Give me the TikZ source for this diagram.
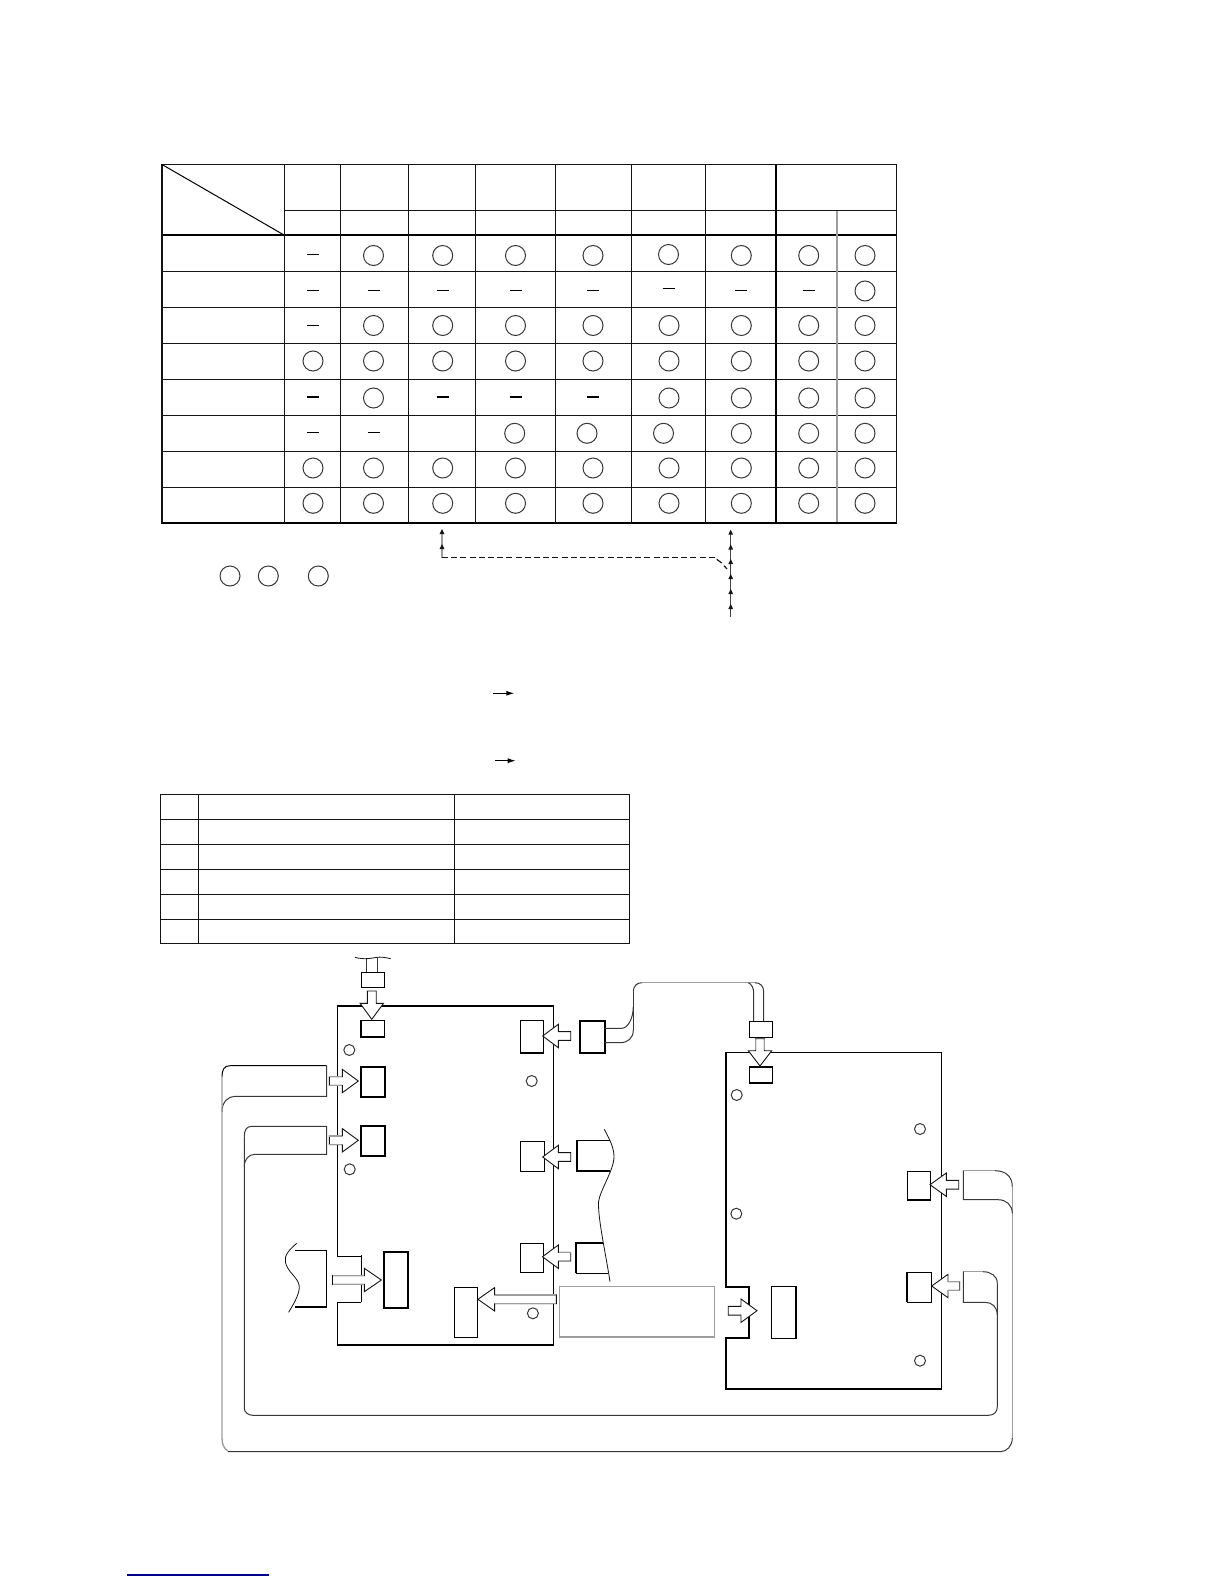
\documentclass[tikz,border=0pt]{standalone}
\usetikzlibrary{arrows.meta}
\definecolor{inkb}{gray}{0.08}
\definecolor{soft}{gray}{0.62}
\definecolor{linkblue}{RGB}{0,0,140}
\newcommand\Oc[2]{\draw[ring] (#1,#2) circle (10);}
\newcommand\Da[2]{\draw[dashmark] (#1-6,#2) -- (#1+6,#2);}
\newcommand\DaB[2]{\draw[dashmark,line width=1.8pt] (#1-6,#2) -- (#1+6,#2);}
\newcommand\Hole[2]{\draw[hole] (#1,#2) circle (5.5);}
% horizontal block arrow: y, tip x, head base x, tail x
\newcommand\barrH[4]{\draw[blockarrow] (#2,#1) -- (#3,#1-11.7) -- (#3,#1-4.4) -- (#4,#1-4.4) -- (#4,#1+4.4) -- (#3,#1+4.4) -- (#3,#1+11.7) -- cycle;}
% vertical block arrow: x, tip y, head base y, tail y
\newcommand\barrV[4]{\draw[blockarrow] (#1,#2) -- (#1-11.7,#3) -- (#1-4.4,#3) -- (#1-4.4,#4) -- (#1+4.4,#4) -- (#1+4.4,#3) -- (#1+11.7,#3) -- cycle;}
% grey shaft of a block arrow
\newcommand\shaftH[3]{\draw[softl] (#2,#1-4.4) -- (#3,#1-4.4) (#2,#1+4.4) -- (#3,#1+4.4);}
\newcommand\shaftV[3]{\draw[softl] (#1-4.4,#2) -- (#1-4.4,#3) (#1+4.4,#2) -- (#1+4.4,#3);}
\newcommand\tinyup[2]{\fill[inkb] (#1,#2-3) -- (#1-2.4,#2+2) -- (#1+2.4,#2+2) -- cycle;}
\tikzset{
  x=1pt,y=-1pt,
  grid/.style={inkb,line width=1pt},
  gridheavy/.style={black,line width=2.6pt},
  ring/.style={inkb!85,line width=1pt},
  dashmark/.style={black,line width=1pt},
  hole/.style={inkb!85,line width=1pt},
  thinl/.style={black,line width=1pt},
  thickl/.style={black,line width=1.8pt},
  softl/.style={soft,line width=1.2pt},
  blockarrow/.style={draw=inkb,fill=white,line width=.9pt,line join=miter},
  cable/.style={inkb!85,line width=1pt},
  softcable/.style={soft,line width=1.4pt},
}
\begin{document}
\begin{tikzpicture}
\useasboundingbox (0,0) rectangle (1224,1584);
\fill[white] (0,0) rectangle (1224,1584);

% ---- main table ----
\foreach \yy in {164.5,271,307,343,379.3,415.3,451.3,487.3} {\draw[grid] (162,\yy) -- (896.3,\yy);}
\draw[grid] (284,210) -- (896.3,210);
\draw[gridheavy] (161,235) -- (896.8,235);
\draw[gridheavy] (161,523) -- (896.8,523);
\draw[grid,line width=1.4pt] (162,164) -- (162,523);
\foreach \xx in {284,340.3,408,475.5,555,631,705.3} {\draw[grid] (\xx,164.5) -- (\xx,523);}
\draw[black,line width=2.6pt] (776,164) -- (776,523);
\draw[grid] (896.3,164) -- (896.3,523);
\draw[soft,line width=1.6pt] (837,210.5) -- (837,522);
\draw[thinl] (162,164.5) -- (284,235);

% row 1
\Da{313}{254}
\foreach \xx in {373.5,442.7,515.5,593,741.3,808.7,865} {\Oc{\xx}{255.5}}
\Oc{668.5}{254.5}
% row 2
\foreach \xx in {313,373.5,442.7,515.5,593,741.3,808.7} {\Da{\xx}{290}}
\Da{668.5}{288}
\Oc{865}{291}
% row 3
\Da{313}{325}
\foreach \xx in {373.5,442.7,515.5,593,669,741.3,808.7,865} {\Oc{\xx}{325.5}}
% row 4
\foreach \xx in {313,373.5,442.7,515.5,593,669,741.3,808.7,865} {\Oc{\xx}{361}}
% row 5
\foreach \xx in {313,442.7,515.5,593} {\DaB{\xx}{396.7}}
\foreach \xx in {373.5,669,741.3,808.7,865} {\Oc{\xx}{398}}
% row 6
\foreach \xx in {313,373.5} {\Da{\xx}{432.3}}
\Oc{514.7}{433.3}\Oc{587}{433.3}\Oc{663.5}{433.3}
\foreach \xx in {741.3,808.7,865} {\Oc{\xx}{433.3}}
% rows 7, 8
\foreach \yy in {468,503.3} {\foreach \xx in {313,373.5,442.7,515.5,593,669,741.3,808.7,865} {\Oc{\xx}{\yy}}}

% legend circles
\Oc{230}{576}\Oc{268.3}{576}\Oc{318.3}{576}

% dashed link and tiny arrows under the table
\draw[soft,line width=1.4pt] (442,557.5) -- (442,533);
\tinyup{442}{532}\tinyup{442}{547}
\draw[inkb,line width=1.2pt,dash pattern=on 6pt off 3.2pt] (442,557.5) -- (715,557.5);
\draw[inkb,line width=1.2pt] (716.7,559.3) -- (721.7,563) (724,565.7) -- (727,569);
\draw[inkb!80,line width=1pt] (730.7,617) -- (730.7,531);
\foreach \yy in {532.7,547.5,562,577,592,607} {\tinyup{730.7}{\yy}}

% small horizontal arrows
\draw[thinl,-{Latex[length=8pt,width=5pt]}] (493,693.3) -- (514.3,693.3);
\draw[thinl,-{Latex[length=8pt,width=5pt]}] (495,760.7) -- (515.7,760.7);

% ---- lower table ----
\draw[grid] (160.7,794.7) rectangle (629.3,943.3);
\foreach \yy in {819.3,844.3,869.3,894.3,919.3} {\draw[grid] (160.7,\yy) -- (629.3,\yy);}
\foreach \xx in {198.3,454.3} {\draw[grid] (\xx,794.7) -- (\xx,943.3);}

% ---- board 1 ----
\draw[thinl] (337.5,1006) -- (337.5,1256) -- (361.4,1256);
\draw[thickl] (361.4,1255) -- (361.4,1302);
\draw[thinl] (361.4,1302) -- (337.5,1302) -- (337.5,1345);
\draw[thickl] (336.5,1345) -- (553.3,1345);
\draw[thinl] (553.3,1345.5) -- (553.3,1006);
\draw[thickl] (336.5,1006) -- (554.3,1006);

% connectors board 1
\draw[thinl] (360.7,1020.7) rectangle (384.7,1037);
\draw[thickl] (360.7,1020.7) -- (360.7,1037) -- (384.7,1037);
\draw[thickl] (360.7,1066.7) rectangle (384.7,1097);
\draw[thickl] (360.7,1126) rectangle (384.7,1156.3);
\draw[thinl] (520.3,1020.7) rectangle (543.7,1053);
\draw[thickl] (520.5,1052.5) -- (543.7,1052.5);
\draw[thinl] (520.3,1141.3) rectangle (544.3,1171.3);
\draw[thinl] (520.7,1243.3) rectangle (543.6,1272.3);
\draw[thickl] (383.6,1252.3) rectangle (408.2,1308.3);
\draw[thinl] (454.3,1287.3) rectangle (477.5,1337.3);

\Hole{349.3}{1050}\Hole{531.7}{1081}\Hole{349.7}{1169.3}\Hole{532.9}{1313.3}

% ---- board 2 ----
\draw[thinl] (725.7,1052.3) -- (941.7,1052.3) -- (941.7,1388.7);
\draw[thickl] (941.7,1388.7) -- (725.7,1388.7) -- (725.7,1338.3) -- (749.3,1338.3) -- (749.3,1287.3) -- (725.7,1287.3) -- (725.7,1052);

% connectors board 2
\draw[thinl] (749.3,1066.7) rectangle (772.7,1083);
\draw[thickl] (749.3,1066.7) -- (772.7,1066.7) (749.3,1083) -- (772.7,1083);
\draw[thinl] (907.3,1171.3) rectangle (930.7,1200);
\draw[thickl] (907.3,1199.7) -- (930.7,1199.7);
\draw[thinl] (907.3,1272.3) rectangle (931.7,1302.3);
\draw[thickl] (907.3,1272.3) -- (907.3,1302.3);
\draw[thinl] (771.3,1286.3) rectangle (796.3,1338.3);
\draw[thickl] (796.3,1286.3) -- (796.3,1338.3);

\Hole{736.7}{1095}\Hole{920}{1129}\Hole{736.3}{1213.7}\Hole{920}{1360.7}

% grey rectangle between the boards
\draw[soft,line width=1.4pt] (559.3,1286.7) rectangle (714.6,1337);

% plug and wires, top of board 1
\draw[thinl] (361.3,972.3) rectangle (384.7,987.7);
\draw[cable] (366.7,958) -- (366.7,972.3);
\draw[cable] (377.3,958) -- (377.3,972.3);
\draw[inkb,line width=.8pt] (355,957.3) .. controls (364,960) and (372,958) .. (376,957.5) .. controls (380,956.5) and (386,957.5) .. (390.7,958.7);

% plug and cable to board 2
\draw[thickl] (579.7,1020.7) rectangle (604.7,1053);
\draw[cable] (604.7,1028.3) -- (621.7,1028.3) .. controls (628,1028.3) and (633.3,1018) .. (633.3,1006.7);
\draw[cable] (604.7,1042.7) -- (620,1042.7) .. controls (628,1042.7) and (633.3,1038) .. (633.3,1030);
\draw[cable] (633.3,1030) -- (633.3,991.7);
\draw[cable] (633.3,991.7) .. controls (633.3,986) and (637,982.7) .. (641.7,982.7);
\draw[softcable] (641.7,982.7) -- (755,982.7);
\draw[cable] (755,982.7) .. controls (760,982.7) and (763.7,986) .. (763.7,991.7) -- (763.7,1021.3);
\draw[cable] (748.3,982.7) .. controls (751.5,984) and (753.7,988) .. (753.7,993) -- (753.7,1021.3);
\draw[thinl] (749.3,1021.3) rectangle (772.7,1037.3);

% left cable, outer
\draw[thinl] (222,1076.7) .. controls (222,1070) and (224,1065.7) .. (230,1065.7) -- (326.7,1065.7);
\draw[cable] (326.7,1065.7) -- (326.7,1096.3) -- (235,1096.3) .. controls (228,1096.3) and (222,1102) .. (222,1111.7);
\draw[softcable] (222,1076.7) -- (222,1438) .. controls (222,1444) and (224,1449) .. (228,1451);
\draw[cable] (228,1451.7) -- (1000,1451.7) .. controls (1007,1451.7) and (1012.3,1446) .. (1012.3,1438);
\draw[softcable] (1012.3,1438) -- (1012.3,1186.7);
\draw[cable] (1012.3,1186.7) .. controls (1012.3,1176) and (1005,1170.7) .. (995,1170.7);
\draw[softcable] (995,1170.7) -- (963.3,1170.7);
\draw[cable] (963.3,1170.7) -- (963.3,1199.7) -- (998.3,1199.7) .. controls (1006,1199.7) and (1012.3,1205) .. (1012.3,1213.3);

% left cable, inner
\draw[cable] (244.3,1136.7) .. controls (244.3,1130) and (246.5,1126.3) .. (251.7,1126.3) -- (326.7,1126.3) -- (326.7,1154.3) -- (255,1154.3) .. controls (249,1154.3) and (244.3,1159) .. (244.3,1166.7);
\draw[cable] (244.3,1136.7) -- (244.3,1408.3) .. controls (244.3,1412) and (248,1415.3) .. (252.9,1415.3) -- (988.3,1415.3) .. controls (994,1415.3) and (997.3,1412) .. (997.3,1406.7) -- (997.3,1283.3);
\draw[cable] (997.3,1283.3) .. controls (997.3,1276) and (991,1271.7) .. (983,1271.7);
\draw[softcable] (983,1271.7) -- (963.3,1271.7);
\draw[cable] (963.3,1271.7) -- (963.3,1302.3) -- (985,1302.3) .. controls (992,1302.3) and (997.3,1307) .. (997.3,1315);

% flat cable left of big connector
\draw[thinl] (295,1250.3) -- (326.4,1250.3);
\draw[thickl] (326.4,1250.3) -- (326.4,1307) -- (295,1307);
\draw[inkb,line width=.8pt] (296.8,1243.3) .. controls (290,1249) and (284,1255) .. (285.4,1262) .. controls (287,1272) and (299.3,1278) .. (299.3,1287) .. controls (299.3,1295) and (293,1305) .. (288.6,1312.3);

% right plugs with wavy cut
\draw[thinl] (577.3,1140.3) -- (610,1140.3);
\draw[thickl] (577.3,1140) -- (577.3,1170.7) -- (610,1170.7);
\draw[thickl] (603,1242.7) -- (575.7,1242.7) -- (575.7,1273.3);
\draw[thinl] (575.7,1273.3) -- (608,1273.3);
\draw[inkb,line width=.8pt] (604.3,1129.3) .. controls (610,1140) and (614,1148) .. (614,1156.7) .. controls (614,1170) and (600,1190) .. (598.5,1202) .. controls (598,1220) and (606,1255) .. (610,1281.7);

% block arrows
\barrV{371.8}{1019.3}{1003.3}{991}
\barrH{1081}{358.3}{342.3}{329.3}
\shaftH{1081}{329.3}{342}
\barrH{1140.3}{358.3}{342.3}{329.3}
\shaftH{1140.3}{329.3}{342}
\barrH{1036}{542.7}{558.3}{570.7}
\barrH{1157}{542.7}{558.3}{570.7}
\barrH{1256.7}{542.5}{558.3}{570.7}
\shaftH{1256.7}{558.6}{570.7}
\barrH{1280}{381.4}{364.3}{332.5}
\shaftH{1280}{332.5}{364}
\barrH{1299.3}{477.9}{494.6}{556.4}
\shaftH{1299.3}{495}{556.4}
\barrH{1310.7}{757}{741}{728.2}
\barrV{760}{1066}{1050.7}{1038.7}
\shaftV{760}{1038.7}{1050.4}
\barrH{1184.7}{930}{946.3}{958.7}
\barrH{1286}{931.7}{948}{959.7}
\shaftH{1286}{948.3}{959.7}

% blue rule at the foot
\draw[linkblue,line width=1.2pt] (127,1575) -- (269,1575);
\end{tikzpicture}
\end{document}
